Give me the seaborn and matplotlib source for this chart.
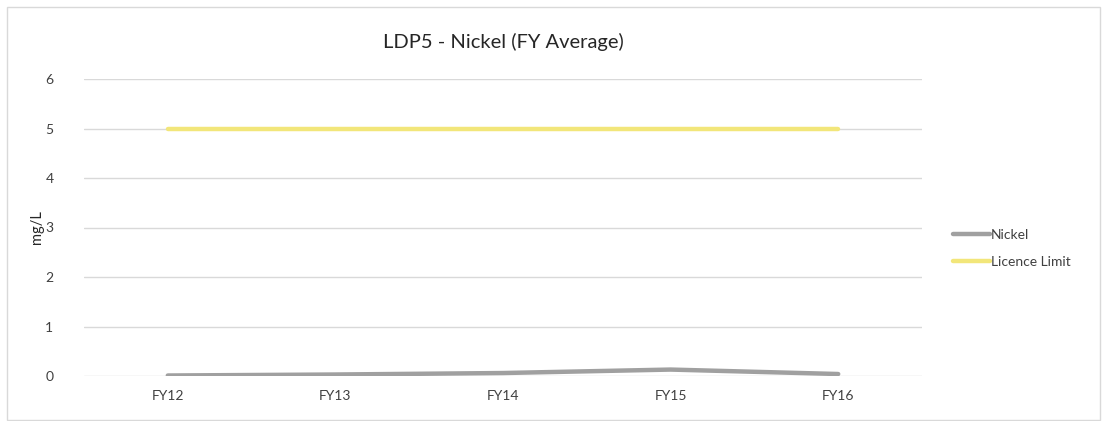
import pandas as pd
import seaborn as sns
import matplotlib.pyplot as plt
from matplotlib.patches import Rectangle

years = ['FY12', 'FY13', 'FY14', 'FY15', 'FY16']
nickel = [0.01, 0.03, 0.06, 0.13, 0.04]
licence_limit = [5, 5, 5, 5, 5]
y_ticks = [0, 1, 2, 3, 4, 5, 6]

df = pd.DataFrame({'year': years, 'Nickel': nickel, 'Licence Limit': licence_limit})
df = df.melt(id_vars='year', var_name='series', value_name='value')

sns.set_style('white')
plt.rcParams['font.family'] = ['Lato', 'DejaVu Sans']

fig = plt.figure(figsize=(11.02, 4.21), dpi=100)
ax = fig.add_axes([84 / 1102, 1 - 376 / 421, (922 - 84) / 1102, (376 - 79) / 421])

for y in y_ticks:
    ax.axhline(y, color='#d9d9d9', lw=1, zorder=0)

sns.lineplot(data=df, x='year', y='value', hue='series',
             palette={'Nickel': '#a0a0a0', 'Licence Limit': '#f2e67a'},
             linewidth=3.2, ax=ax, sort=False)

ax.set_xlim(-0.5, len(years) - 0.5)
ax.set_ylim(0, 6)
ax.set_yticks(y_ticks)
ax.set_yticklabels([str(v) for v in y_ticks])
ax.tick_params(axis='both', labelsize=10, colors='#404040', length=0)
ax.tick_params(axis='y', pad=22)
ax.tick_params(axis='x', pad=10)
for s in ax.spines.values():
    s.set_visible(False)
ax.set_xlabel('')
ax.set_ylabel('mg/L', fontsize=10.5, color='#262626')
ax.yaxis.set_label_coords(-0.0475, 0.5)
ax.set_title('LDP5 - Nickel (FY Average)', fontsize=14.5, color='#262626', pad=22)

leg = ax.legend(loc='center left', bbox_to_anchor=(1.022, 0.43), frameon=False,
                fontsize=10, handlelength=2.7, handletextpad=0.05, labelspacing=1.1)
for t in leg.get_texts():
    t.set_color('#404040')

fig.patches.append(Rectangle((7 / 1102, 1 / 421), 1093 / 1102, 413 / 421,
                             transform=fig.transFigure, fill=False,
                             edgecolor='#d9d9d9', lw=1))

fig.savefig('out.png', dpi=100)
